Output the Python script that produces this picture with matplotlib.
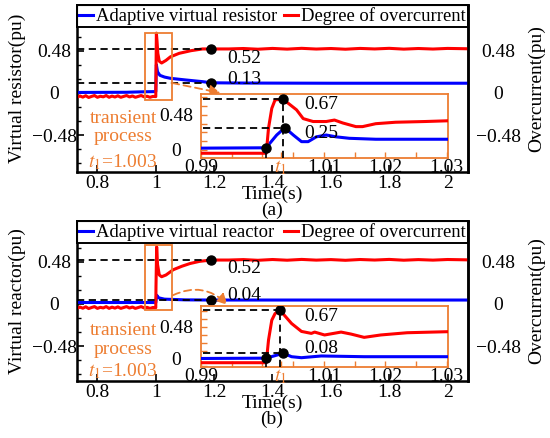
import numpy as np
import matplotlib
matplotlib.use('Agg')
import matplotlib.pyplot as plt
from matplotlib.ticker import MultipleLocator
from matplotlib.patches import Rectangle

plt.rcParams['font.family'] = ['Liberation Serif', 'DejaVu Serif']
plt.rcParams['mathtext.fontset'] = 'stix'
plt.rcParams['font.size'] = 14

ORANGE = '#ED7D31'
W, H = 550, 438

# ---------------- data ----------------
pre_t = [0.73, 0.74, 0.75, 0.76, 0.77, 0.78, 0.79, 0.80, 0.81, 0.82, 0.83, 0.84, 0.85, 0.86,
         0.87, 0.88, 0.89, 0.90, 0.91, 0.92, 0.93, 0.94, 0.95, 0.96, 0.97, 0.98, 0.99, 1.0]
red_pre = [-0.05, -0.035, -0.048, -0.032, -0.052, -0.04, -0.03, -0.05, -0.038, -0.045, -0.03, -0.05,
           -0.036, -0.047, -0.033, -0.05, -0.04, -0.03, -0.046, -0.035, -0.05, -0.04, -0.03, -0.045,
           -0.038, -0.05, -0.04, -0.042]
post_t = [1.25, 1.3, 1.35, 1.4, 1.45, 1.5, 1.55, 1.6, 1.65, 1.7, 1.75, 1.8, 1.85, 1.9, 1.95, 2.0, 2.07]
red_post = [0.5, 0.505, 0.497, 0.506, 0.498, 0.507, 0.499, 0.505, 0.497, 0.506, 0.5, 0.507, 0.498,
            0.505, 0.499, 0.506, 0.502]

# panel (a) main
red_a_t = [1.0007, 1.002, 1.004, 1.007, 1.012, 1.02, 1.035, 1.05, 1.08, 1.12, 1.16, 1.19]
red_a_v = [0.2, 0.68, 0.6, 0.45, 0.36, 0.34, 0.37, 0.41, 0.45, 0.48, 0.5, 0.5]
blue_a_t = [0.73, 0.8, 0.9, 0.95, 1.0, 1.002, 1.006, 1.014, 1.03, 1.05, 1.1, 1.16, 1.19, 1.3, 1.6, 2.07]
blue_a_v = [0.005, 0.006, 0.007, 0.012, 0.015, 0.32, 0.24, 0.2, 0.18, 0.166, 0.148, 0.128, 0.115,
            0.112, 0.11, 0.11]

# panel (b) main
red_b_t = [1.0007, 1.003, 1.006, 1.012, 1.02, 1.035, 1.06, 1.09, 1.117, 1.15, 1.19]
red_b_v = [0.2, 0.65, 0.45, 0.33, 0.31, 0.33, 0.39, 0.43, 0.46, 0.485, 0.5]
blue_b_t = [0.73, 0.9, 1.0, 1.003, 1.01, 1.03, 1.1, 1.19, 1.5, 2.07]
blue_b_v = [0.017, 0.017, 0.017, 0.10, 0.07, 0.055, 0.047, 0.045, 0.045, 0.045]

# insets
ins_red_a_t = [0.990, 1.00062, 1.00099, 1.00152, 1.00205, 1.00329, 1.00555, 1.00663, 1.00824, 1.01038,
               1.01172, 1.01307, 1.01521, 1.01629, 1.01844, 1.02166, 1.02649, 1.0302]
ins_red_a_v = [-0.045, -0.045, 0.30, 0.57, 0.685, 0.70, 0.55, 0.43, 0.39, 0.39, 0.41, 0.37, 0.32, 0.32,
               0.36, 0.38, 0.39, 0.40]
ins_blue_a_t = [0.990, 1.00062, 1.00099, 1.00232, 1.00366, 1.00502, 1.00636, 1.00744, 1.00877, 1.01038,
                1.01199, 1.01414, 1.01844, 1.0302]
ins_blue_a_v = [0.025, 0.03, 0.07, 0.205, 0.305, 0.205, 0.114, 0.114, 0.18, 0.205, 0.18, 0.16, 0.147, 0.147]

ins_red_b_t = [0.990, 1.00062, 1.00099, 1.00152, 1.00205, 1.00286, 1.00474, 1.00635, 1.00796, 1.0085,
               1.01011, 1.0128, 1.01441, 1.01655, 1.01924, 1.02355, 1.0302]
ins_red_b_v = [-0.064, -0.064, 0.28, 0.58, 0.68, 0.73, 0.53, 0.41, 0.38, 0.40, 0.356, 0.40, 0.37, 0.32,
               0.356, 0.39, 0.406]
ins_blue_b_t = [0.990, 1.00062, 1.0034, 1.00474, 1.00635, 1.00958, 1.01655, 1.0302]
ins_blue_b_v = [0.0, 0.005, 0.079, 0.027, 0.012, 0.038, 0.027, 0.027]

t1 = 1.003

fig = plt.figure(figsize=(W / 100, H / 100), dpi=100)


def px_axes(x0, y0, x1, y1):
    return fig.add_axes([x0 / W, 1 - y1 / H, (x1 - x0) / W, (y1 - y0) / H])


def panel(y0, y1, ylim, ylabel, legname, red_t, red_v, blue_t, blue_v, dot_t, lab_lo,
          lab_lo_v, lab_hi_v, iy0, iy1, iylim, ired_t, ired_v, iblue_t, iblue_v,
          ipk_r, ipk_b, ilab_b, ilab_r_v, ilab_b_v, rect_v, arrow_a, arrow_b, arc,
          txt_v, tag):
    ax = px_axes(77, y0, 468, y1)
    t_red = pre_t + red_t + post_t
    v_red = red_pre + red_v + red_post
    ax.plot(blue_t, blue_v, color='#0000FF', lw=2.2, label=legname, zorder=3)
    ax.plot(t_red, v_red, color='#FF0000', lw=2.2, label='Degree of overcurrent', zorder=3)
    ax.set_xlim(0.73, 2.07)
    ax.set_ylim(*ylim)
    ax.set_xticks([0.8, 1, 1.2, 1.4, 1.6, 1.8, 2])
    ax.set_xticklabels(['0.8', '1', '1.2', '1.4', '1.6', '1.8', '2'])
    ax.set_yticks([-0.48, 0, 0.48])
    ax.set_yticklabels(['\u22120.48', '0', '0.48'])
    ax.yaxis.set_minor_locator(MultipleLocator(0.16))
    ax.tick_params(axis='both', direction='in', length=5, width=1.2)
    ax.tick_params(axis='y', which='minor', direction='in', length=3, width=1.0)
    ax.tick_params(axis='x', pad=2)
    ax.tick_params(axis='y', pad=16.5)
    for lbl in ax.get_yticklabels():
        lbl.set_ha('center')
    for s in ax.spines.values():
        s.set_linewidth(1.8)

    # steady state markers
    y_hi = np.interp(dot_t, t_red, v_red)
    y_lo = np.interp(dot_t, blue_t, blue_v)
    for yy in (y_hi, y_lo):
        ax.plot([0.73, dot_t], [yy, yy], color='k', ls=(0, (4, 2.5)), lw=1.3, zorder=4)
        ax.plot([dot_t], [yy], 'o', color='k', ms=6.5, zorder=5)
    ax.text(1.244, lab_hi_v, '0.52', ha='left', va='center')
    ax.text(1.244, lab_lo_v, lab_lo, ha='left', va='center')

    ax.add_patch(Rectangle((0.963, rect_v[0]), 1.0556 - 0.963, rect_v[1] - rect_v[0],
                           fill=False, ec=ORANGE, lw=1.3, zorder=4))
    ax.annotate('', xy=arrow_b, xytext=arrow_a,
                arrowprops=dict(arrowstyle='-|>', color=ORANGE, lw=1.3, ls=(0, (4, 2.5)),
                                mutation_scale=16, shrinkA=0, shrinkB=0,
                                connectionstyle='arc3,rad=%s' % arc), zorder=6)
    ax.text(0.8876, txt_v[0], 'transient', color=ORANGE, ha='center', va='center')
    ax.text(0.8876, txt_v[1], 'process', color=ORANGE, ha='center', va='center')
    ax.text(0.8876, txt_v[2], r'$t_{\mathrm{1}}$=1.003', color=ORANGE, ha='center', va='center')

    leg = ax.legend(loc='upper left', bbox_to_anchor=(0, 0, 1, 1), mode='expand', ncol=2,
                    borderaxespad=0, fancybox=False, edgecolor='k', framealpha=1,
                    handlelength=0.75, handletextpad=0.15, columnspacing=0.3, borderpad=0.12,
                    fontsize=13.4)
    leg.get_frame().set_linewidth(1.4)
    leg.set_zorder(10)

    ax2 = ax.twinx()
    ax2.set_ylim(*ylim)
    ax2.set_yticks([-0.48, 0, 0.48])
    ax2.set_yticklabels(['\u22120.48', '0', '0.48'])
    ax2.tick_params(axis='y', direction='in', length=0, pad=22)
    for lbl in ax2.get_yticklabels():
        lbl.set_ha('center')
    ax2.spines['right'].set_linewidth(1.8)
    ax2.set_ylabel('Overcurrent(pu)', labelpad=5)

    ax.set_ylabel(ylabel, labelpad=4)

    # inset
    ia = px_axes(201, iy0, 448, iy1)
    ia.plot(iblue_t, iblue_v, color='#0000FF', lw=2.2, zorder=3)
    ia.plot(ired_t, ired_v, color='#FF0000', lw=2.2, zorder=3)
    ia.set_xlim(0.9904, 1.0302)
    ia.set_ylim(*iylim)
    ia.set_xticks([0.99, t1, 1.01, 1.02, 1.03])
    ia.set_xticklabels(['0.99', r'$t_1$', '1.01', '1.02', '1.03'])
    ia.get_xticklabels()[1].set_color(ORANGE)
    ia.xaxis.set_minor_locator(MultipleLocator(0.005))
    ia.set_yticks([0, 0.48])
    ia.set_yticklabels(['0', '0.48'])
    ia.yaxis.set_minor_locator(MultipleLocator(0.12))
    ia.tick_params(axis='both', which='both', direction='in', color=ORANGE, length=4, width=1.0)
    ia.tick_params(axis='x', pad=0.5)
    ia.tick_params(axis='y', pad=18)
    for lbl in ia.get_yticklabels():
        lbl.set_ha('center')
    for s in ia.spines.values():
        s.set_color(ORANGE)
        s.set_linewidth(1.3)

    onset_t = ired_t[1]
    onset_v = np.interp(onset_t, iblue_t, iblue_v)
    ia.plot([onset_t, onset_t], [iylim[0], onset_v], color='k', lw=1.2, zorder=4)
    ia.plot([onset_t], [onset_v], 'o', color='k', ms=6.5, zorder=5)
    pr_t, pr_v = ipk_r
    pb_t, pb_v = ipk_b
    ia.plot([0.9904, pr_t], [pr_v, pr_v], color='k', ls=(0, (4, 2.5)), lw=1.3, zorder=4)
    ia.plot([0.9904, pb_t], [pb_v, pb_v], color='k', ls=(0, (4, 2.5)), lw=1.3, zorder=4)
    ia.plot([pr_t, pr_t], [iylim[0], pr_v], color='k', ls=(0, (4, 2.5)), lw=1.3, zorder=4)
    ia.plot([pr_t, pb_t], [pr_v, pb_v], 'o', color='k', ms=6.5, ls='none', zorder=5)
    ia.text(1.0068, ilab_r_v, '0.67', ha='left', va='center')
    ia.text(1.0068, ilab_b_v, ilab_b, ha='left', va='center')

    fig.text(272 / W, 1 - (y1 + 22) / H, 'Time(s)', ha='center', va='center')
    fig.text(272 / W, 1 - (y1 + 38) / H, tag, ha='center', va='center')
    return ax


panel(5, 172, (-0.9, 1.0), 'Virtual resistor(pu)', 'Adaptive virtual resistor',
      red_a_t, red_a_v, blue_a_t, blue_a_v, 1.19, '0.13', 0.158, 0.397,
      94, 158, (-0.11, 0.767), ins_red_a_t, ins_red_a_v, ins_blue_a_t, ins_blue_a_v,
      (1.00329, 0.70), (1.00366, 0.305), '0.25', 0.62, 0.23,
      (-0.081, 0.68), (1.0556, 0.113), (1.222, 0.0), 0.0,
      (-0.286, -0.50, -0.786), '(a)')

panel(221, 381, (-0.876, 0.944), 'Virtual reactor(pu)', 'Adaptive virtual reactor',
      red_b_t, red_b_v, blue_b_t, blue_b_v, 1.19, '0.04', 0.10, 0.40,
      306, 367, (-0.129, 0.795), ins_red_b_t, ins_red_b_v, ins_blue_b_t, ins_blue_b_v,
      (1.00286, 0.73), (1.0034, 0.079), '0.08', 0.63, 0.155,
      (-0.068, 0.67), (1.059, 0.10), (1.246, -0.011), -0.35,
      (-0.307, -0.52, -0.76), '(b)')

fig.savefig('out.png', dpi=100)
